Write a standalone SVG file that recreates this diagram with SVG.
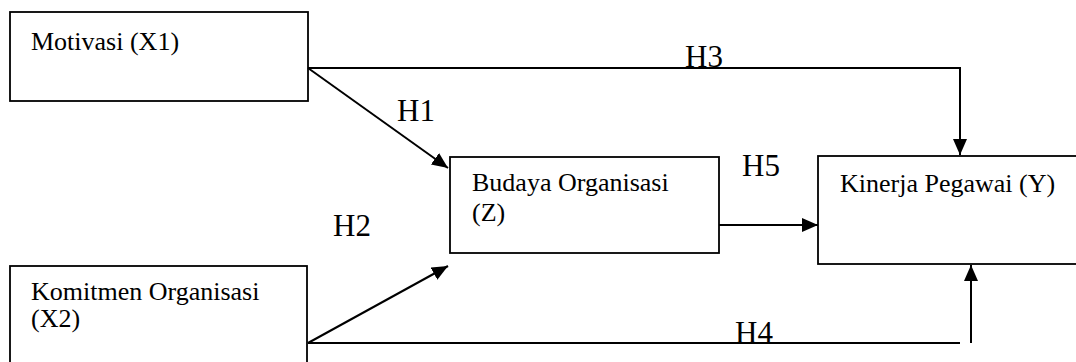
<svg xmlns="http://www.w3.org/2000/svg" width="1076" height="362" viewBox="0 0 1076 362">
  <style>
    .box { fill: #ffffff; stroke: #000000; stroke-width: 1.8; }
    .txt { font-family: "Liberation Serif", "Times New Roman", serif; font-size: 26px; fill: #000000; }
    .lbl { font-family: "Liberation Serif", "Times New Roman", serif; font-size: 31px; fill: #000000; }
    .con { fill: none; stroke: #000000; stroke-width: 2; }
  </style>
  <defs>
    <marker id="arrow" viewBox="0 0 16 14" markerUnits="userSpaceOnUse" markerWidth="16" markerHeight="14" refX="16" refY="7" orient="auto">
      <path d="M0,0 L16,7 L0,14 z" fill="#000000"/>
    </marker>
  </defs>
  <rect width="1076" height="362" fill="#ffffff"/>

  <g id="node-motivasi">
    <rect class="box" x="10" y="12" width="298" height="89"/>
    <text class="txt" x="31" y="50">Motivasi (X1)</text>
  </g>

  <g id="node-budaya">
    <rect class="box" x="450" y="157" width="269" height="96"/>
    <text class="txt" x="472" y="191">Budaya Organisasi</text>
    <text class="txt" x="472" y="221">(Z)</text>
  </g>

  <g id="node-kinerja">
    <rect class="box" x="818" y="156" width="270" height="108"/>
    <text class="txt" x="840" y="192">Kinerja Pegawai (Y)</text>
  </g>

  <g id="node-komitmen">
    <rect class="box" x="10" y="266" width="297" height="110"/>
    <text class="txt" x="31" y="300">Komitmen Organisasi</text>
    <text class="txt" x="31" y="327">(X2)</text>
  </g>

  <g id="connectors">
    <path class="con" d="M308,68 H960 V155" marker-end="url(#arrow)"/>
    <path class="con" d="M308,68 L448,168" marker-end="url(#arrow)"/>
    <path class="con" d="M308,343 L448,266" marker-end="url(#arrow)"/>
    <path class="con" d="M719,225 H818" marker-end="url(#arrow)"/>
    <path class="con" d="M308,343 H960"/>
    <path class="con" d="M971,343 V265" marker-end="url(#arrow)"/>
  </g>

  <g id="labels">
    <text class="lbl" x="685" y="67">H3</text>
    <text class="lbl" x="397" y="121">H1</text>
    <text class="lbl" x="742" y="176">H5</text>
    <text class="lbl" x="333" y="236">H2</text>
    <text class="lbl" x="735" y="343">H4</text>
  </g>
</svg>
